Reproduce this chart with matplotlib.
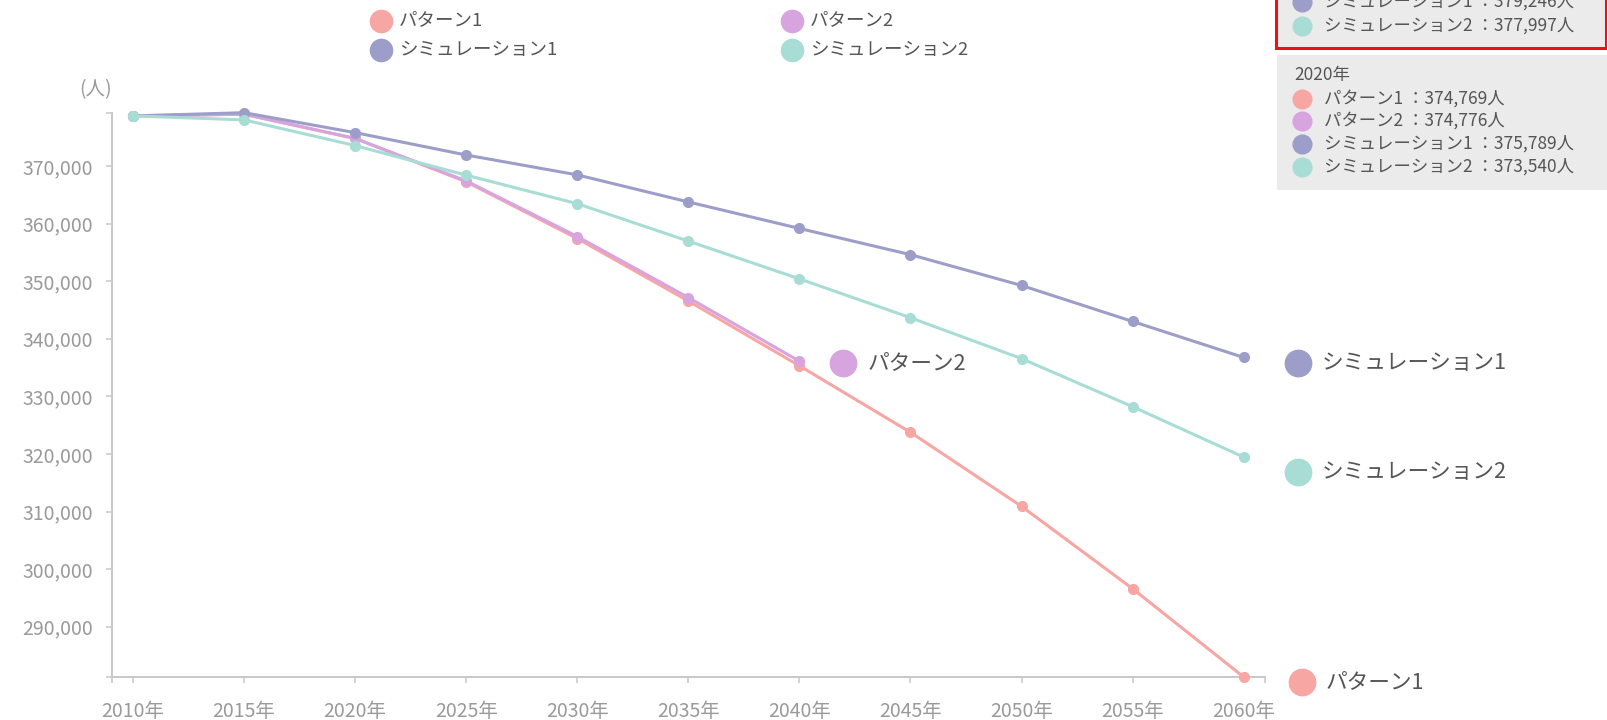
import matplotlib
matplotlib.use('Agg')
import matplotlib.pyplot as plt
from matplotlib.patches import Rectangle
from matplotlib.transforms import offset_copy

plt.rcParams['font.family'] = ['Noto Sans CJK JP', 'DejaVu Sans']

# 人口推計 (人)
years = [2010, 2015, 2020, 2025, 2030, 2035, 2040, 2045, 2050, 2055, 2060]
pattern1 = [378690, 378970, 374769, 367250, 357400, 346550, 335300, 323750, 310900, 296600, 281270]
pattern2 = [378690, 378990, 374776, 367400, 357750, 347150, 336100]
sim1 = [378690, 379246, 375789, 371900, 368450, 363750, 359150, 354600, 349250, 343000, 336750]
sim2 = [378690, 377997, 373540, 368400, 363450, 356950, 350400, 343650, 336550, 328200, 319450]

names = ['パターン1', 'パターン2', 'シミュレーション1', 'シミュレーション2']
colors = ['#f7a6a4', '#d7a4e0', '#9c9ec9', '#a7ddd4']
yticks = list(range(290000, 370001, 10000))

AXIS_GRAY = '#c8c8c8'
TEXT_GRAY = '#9a9a9a'


def main():
    fig = plt.figure(figsize=(16.08, 7.2), dpi=100)
    W, H = 1608, 720
    ax = fig.add_axes([111.7 / W, 43 / H, (1265 - 111.7) / W, (677 - 112.7) / H])

    series = [pattern1, pattern2, sim1, sim2]
    for vals, color in zip(series, colors):
        ax.plot(years[:len(vals)], vals, color=color, lw=2.2, marker='o', ms=7,
                clip_on=False, solid_capstyle='round', zorder=3)

    ax.set_xlim(2009.04, 2060.96)
    ax.set_ylim(min(pattern1), max(sim1))
    ax.set_xticks(years, [f'{y}年' for y in years])
    ax.set_yticks(yticks, [f'{v:,}' for v in yticks])
    # d3 風の軸端の目盛り
    ax.set_xticks(ax.get_xlim(), minor=True)
    ax.set_yticks(ax.get_ylim(), minor=True)
    ax.tick_params(which='both', length=4.3, width=1.1, color=AXIS_GRAY,
                   labelcolor=TEXT_GRAY, labelsize=14)
    ax.tick_params(axis='y', which='major', pad=9)
    ax.tick_params(axis='x', which='major', pad=13)
    for s in ['top', 'right']:
        ax.spines[s].set_visible(False)
    for s in ['left', 'bottom']:
        ax.spines[s].set_color(AXIS_GRAY)
        ax.spines[s].set_linewidth(1.4)

    # 系列の末尾ラベル
    end_labels = [
        (0, 58, -5),
        (1, 44, -2),
        (2, 54, -6),
        (3, 54, -15),
    ]
    for i, dx, dy in end_labels:
        vals = series[i]
        x, y = years[len(vals) - 1], vals[-1]
        tr = offset_copy(ax.transData, fig=fig, x=dx, y=dy, units='dots')
        ax.plot([x], [y], 'o', ms=19, color=colors[i], transform=tr, clip_on=False)
        tr_t = offset_copy(ax.transData, fig=fig, x=dx + 24, y=dy, units='dots')
        ax.text(x, y, names[i], transform=tr_t, va='center', ha='left',
                fontsize=15.6, color='#555555', clip_on=False)

    # 凡例・ツールチップ (ピクセル座標)
    ov = fig.add_axes([0, 0, 1, 1])
    ov.set_xlim(0, W)
    ov.set_ylim(H, 0)
    ov.axis('off')

    ov.text(112, 90, '(人)', ha='right', va='center', fontsize=14, color=TEXT_GRAY)

    legend_pos = [(381, 20.5), (792, 20.5), (381, 50), (792, 50)]
    for (lx, ly), name, color in zip(legend_pos, names, colors):
        ov.plot([lx], [ly], 'o', ms=16, color=color)
        ov.text(lx + 18, ly, name, va='center', ha='left', fontsize=13.3, color='#555555')

    # 2015年 (上部が切れている)
    ov.add_patch(Rectangle((1276, -30), 330, 78, fc='#ebebeb', ec='#ee1111', lw=2.2))
    for i, ry in [(2, 2), (3, 26)]:
        ov.plot([1302], [ry], 'o', ms=13.5, color=colors[i])
        ov.text(1324, ry, f'{names[i]} ：{series[i][1]:,}人', va='center',
                fontsize=12.5, color='#555555')

    # 2020年
    ov.add_patch(Rectangle((1277, 55), 335, 135, fc='#ebebeb', ec='none'))
    ov.text(1294, 75, f'{years[2]}年', va='center', fontsize=12.5, color='#555555')
    for i, ry in enumerate([98.5, 121, 144, 167]):
        ov.plot([1302], [ry], 'o', ms=13.5, color=colors[i])
        ov.text(1324, ry, f'{names[i]} ：{series[i][2]:,}人', va='center',
                fontsize=12.5, color='#555555')

    fig.savefig('out.png', dpi=100)


if __name__ == '__main__':
    main()
